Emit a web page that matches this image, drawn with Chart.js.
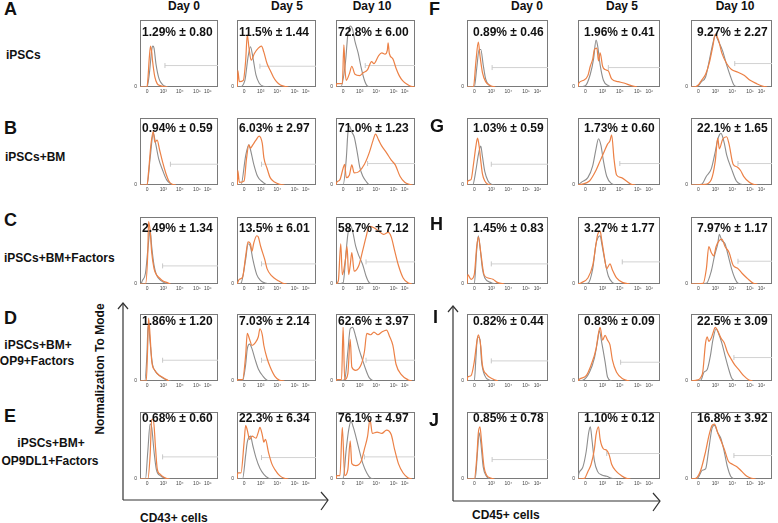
<!DOCTYPE html>
<html>
<head>
<meta charset="utf-8">
<script src="https://cdn.jsdelivr.net/npm/chart.js@4.4.1/dist/chart.umd.min.js"></script>
<style>
  body { margin: 0; background: #fff; }
  #stage { position: relative; width: 778px; height: 523px; overflow: hidden; background: #fff;
           font-family: "Liberation Sans", Arial, sans-serif; color: #111; }
  #stage canvas { position: absolute; }
  .t { position: absolute; font-weight: bold; font-size: 12px; line-height: 14px; white-space: nowrap; }
  .letter { position: absolute; font-weight: bold; font-size: 18px; line-height: 20px; }
  .pct { position: absolute; font-weight: bold; font-size: 12px; line-height: 14px; white-space: nowrap; }
</style>
</head>
<body>
<div id="stage">
  <svg width="778" height="523" style="position:absolute;left:0;top:0" fill="none" stroke="#333" stroke-width="1.2">
    <line x1="123" y1="303" x2="123" y2="500"/>
    <line x1="123" y1="500" x2="328" y2="500"/>
    <polyline points="118,309 123,303 128,309"/>
    <polyline points="321,492 328,500 321,510"/>
    <line x1="453" y1="306" x2="453" y2="501"/>
    <line x1="453" y1="501" x2="660" y2="501"/>
    <polyline points="448,312 453,306 458,312"/>
    <polyline points="653,493 660,501 653,511"/>
  </svg>
</div>
<script>
// column headers, row labels
const days = ["Day 0", "Day 5", "Day 10"];
const dayCenters = [184, 287, 372, 527, 622, 735];

// x tick positions (in % of panel width) and labels
const xTickPos = [9, 30, 51, 73, 87];
const xTickText = ["0", "10³", "10⁴", "10⁵", "10⁶"];

// percentages shown in each panel (Day 0, Day 5, Day 10)
const pctA = ["1.29% ± 0.80", "11.5% ± 1.44", "72.8% ± 6.00"];
const pctB = ["0.94% ± 0.59", "6.03% ± 2.97", "71.0% ± 1.23"];
const pctC = ["2.49% ± 1.34", "13.5% ± 6.01", "58.7% ± 7.12"];
const pctD = ["1.86% ± 1.20", "7.03% ± 2.14", "62.6% ± 3.97"];
const pctE = ["0.68% ± 0.60", "22.3% ± 6.34", "76.1% ± 4.97"];
const pctF = ["0.89% ± 0.46", "1.96% ± 0.41", "9.27% ± 2.27"];
const pctG = ["1.03% ± 0.59", "1.73% ± 0.60", "22.1% ± 1.65"];
const pctH = ["1.45% ± 0.83", "3.27% ± 1.77", "7.97% ± 1.17"];
const pctI = ["0.82% ± 0.44", "0.83% ± 0.09", "22.5% ± 3.09"];
const pctJ = ["0.85% ± 0.78", "1.10% ± 0.12", "16.8% ± 3.92"];

// gate marker: [start x, level]
const gateCD43 = [
  [[32, 32], [29, 31], [37, 32]],
  [[39, 31], [31, 31], [40, 32]],
  [[29, 27], [31, 30], [38, 33]],
  [[29, 31], [31, 31], [38, 31]],
  [[29, 33], [31, 32], [36, 33]]
];
const gateCD45 = [
  [[31, 29], [37, 29], [54, 35]],
  [[30, 31], [51, 32], [58, 32]],
  [[30, 30], [54, 33], [58, 34]],
  [[30, 30], [52, 28], [53, 35]],
  [[31, 29], [35, 38], [53, 35]]
];

// histograms, [x, % of mode]; gray = control, orange = sample
const grayA = [
  [[0,0],[9,0],[12,20],[15,55],[16.5,61],[18,58],[20.4,35],[24.5,12],[28.6,4],[32.6,1],[36,0]],
  [[0,0],[3,0],[10,10],[14,45],[17,60],[20,45],[24,18],[28,6],[33,1],[40,0]],
  [[0,0],[6,0],[12,37],[15,79],[18,91],[21,86],[24,68],[28,51],[32,28],[36,10],[40,1],[44,0]]
];
const orangeA = [
  [[0,0],[9,0],[10,10],[12,45],[13.5,61],[15,52],[16,40],[19,15],[22,5],[26,2],[30.6,0.5],[35,0]],
  [[0,0],[0.5,0],[1,25],[3,8],[8,10],[11,40],[13,78],[15,60],[18,40],[22,50],[27,58],[31,61],[34,52],[38,35],[42,25],[46,15],[50,8],[55,3],[60,1],[65,0]],
  [[0,0],[1,5],[8,5],[10,63],[11.5,25],[13,10],[17,20],[20,31],[24,19],[30,17],[34,21],[40,26],[45,38],[48,35],[54,47],[58,51],[62,49],[65,55],[66,66],[67.5,50],[72,42],[76,28],[80,17],[84,10],[90,4],[96,0.5],[100,0]]
];
const grayB = [
  [[0,0],[9,0],[13,40],[17,77],[20,62],[24,39],[29,22],[34,8],[39,2],[45,0]],
  [[0,0],[5,0],[11,44],[15,60],[17,53],[21,32],[26,13],[33,4],[38,0]],
  [[0,0],[9,0],[13,39],[15,77],[17,88],[20,79],[23,72],[27,48],[30,27],[34,13],[39,4],[42,0]]
];
const orangeB = [
  [[0,0],[9,0],[11,20],[14,60],[17,80],[19,64],[22,67],[25,53],[29,34],[33,18],[37,6],[41,1],[46,0]],
  [[0,0],[0.5,0],[1,22],[3,4],[9,6],[12,39],[15,60],[17,55],[20,60],[24,67],[28,73],[32,62],[34,41],[38,25],[42,11],[48,4],[54,1],[60,0]],
  [[0,0],[1,4],[5,8],[9,25],[11,31],[13,11],[17,15],[20,30],[23,18],[29,20],[36,31],[42,48],[47,67],[50,76],[54,67],[58,58],[64,48],[70,37],[75,30],[81,13],[87,4],[93,1],[97,0]]
];
const grayC = [
  [[0,0],[1,0],[3,5],[7,16],[10,51],[12,74],[13,81],[15,56],[18,28],[21,14],[27,5],[33,1],[38,0]],
  [[0,0],[5,1],[11,37],[14,60],[17,56],[20,37],[25,14],[30,5],[37,1],[42,0]],
  [[0,0],[9,2],[13,51],[15,74],[18,88],[21,79],[25,56],[29,42],[34,28],[38,12],[42,2],[46,0]]
];
const orangeC = [
  [[0,0],[7,0],[10,47],[11,93],[13,79],[15,47],[18,23],[21,14],[25,9],[29,5],[35,2],[39,0]],
  [[0,0],[3,7],[7,10],[11,42],[14,63],[17,60],[19,49],[21,60],[25,72],[27,70],[30,56],[35,37],[38,23],[44,12],[52,5],[58,1],[63,0]],
  [[0,0],[3,5],[6,60],[8,14],[12,37],[14,56],[16,14],[18,28],[20,47],[23,19],[29,28],[34,51],[38,70],[42,86],[48,84],[54,79],[60,74],[66,77],[70,70],[74,51],[79,28],[85,9],[91,2],[96,0]]
];
const grayD = [
  [[0,0],[6,0],[9,43],[10,76],[11,83],[13,57],[16,25],[20,14],[26,7],[35,1],[40,0]],
  [[0,0],[7,0],[11,25],[13,48],[16,55],[19,48],[23,32],[27,18],[33,7],[38,1],[42,0]],
  [[0,0],[11,2],[15,44],[18,78],[21,80],[25,66],[29,48],[34,30],[38,16],[42,5],[46,1],[50,0]]
];
const orangeD = [
  [[0,0],[8,0],[10,57],[11,94],[13,66],[15,30],[19,16],[24,9],[30,5],[37,0]],
  [[0,0],[1,2],[7,2],[11,39],[13,71],[16,62],[19,53],[23,57],[27,66],[29,78],[32,69],[34,53],[38,34],[42,21],[48,7],[54,1],[60,0]],
  [[0,0],[1,2],[7,2],[9,80],[11,2],[15,11],[18,62],[20,21],[25,16],[32,25],[36,44],[39,71],[44,69],[48,73],[53,69],[58,73],[64,76],[68,66],[72,53],[76,25],[83,9],[91,2],[96,0]]
];
const grayE = [
  [[0,0],[7,0],[10,41],[13,82],[15,77],[18,41],[21,14],[26,5],[33,1],[38,0]],
  [[0,0],[7,0],[11,36],[13,55],[17,64],[20,50],[24,32],[29,16],[34,7],[40,1],[45,0]],
  [[0,0],[9,1],[13,45],[16,73],[19,86],[22,77],[25,64],[29,45],[34,23],[39,9],[44,1],[48,0]]
];
const orangeE = [
  [[0,0],[10,0],[13,36],[15,89],[17,89],[20,45],[22,16],[26,7],[33,1],[38,0]],
  [[0,0],[1,9],[5,9],[9,55],[11,80],[13,73],[16,59],[19,64],[24,61],[27,70],[29,77],[32,66],[34,55],[36,59],[40,39],[44,23],[48,14],[54,5],[60,1],[65,0]],
  [[0,0],[1,5],[5,5],[8,77],[11,5],[15,14],[18,57],[20,23],[25,20],[32,27],[36,45],[40,64],[43,89],[46,68],[52,70],[58,68],[64,73],[70,66],[74,45],[79,23],[85,9],[91,2],[96,0]]
];
const grayF = [
  [[0,0],[9,0],[12,28],[15,56],[17,56],[20,33],[23,12],[27,3],[33,0]],
  [[0,0],[9,2],[15,19],[19,42],[22,70],[24,61],[27,33],[31,10],[37,2],[42,0]],
  [[0,0],[7,0],[13,8],[18,15],[23,42],[27,65],[30,77],[34,68],[39,54],[44,33],[49,15],[53,3],[58,0]]
];
const orangeF = [
  [[0,0],[8,0],[11,38],[14,67],[16,47],[19,22],[23,8],[29,2],[35,0]],
  [[0,0],[1,6],[7,10],[12,17],[15,31],[18,42],[20,56],[23,58],[25,39],[27,51],[30,31],[33,26],[37,24],[41,12],[49,8],[56,6],[65,2],[72,0]],
  [[0,0],[3,0],[9,3],[13,10],[18,19],[23,38],[27,61],[30,79],[34,70],[38,51],[44,35],[50,26],[58,22],[66,17],[73,10],[81,5],[89,1],[94,0]]
];
const grayG = [
  [[0,0],[7,0],[11,22],[14,45],[17,58],[19,43],[22,20],[26,6],[30,1],[34,0]],
  [[0,0],[4,4],[12,11],[18,29],[22,54],[25,69],[28,59],[31,36],[35,13],[41,2],[46,0]],
  [[0,0],[13,1],[19,13],[25,24],[30,50],[33,68],[37,77],[41,63],[44,45],[50,24],[56,6],[62,1],[66,0]]
];
const orangeG = [
  [[0,0],[1,6],[5,8],[8,31],[11,58],[13,70],[15,58],[17,36],[19,17],[22,6],[26,1],[30,0]],
  [[0,0],[4,1],[14,6],[22,22],[27,36],[32,50],[36,61],[39,66],[41,75],[44,38],[47,15],[53,11],[59,6],[65,1],[70,0]],
  [[0,0],[17,1],[25,8],[30,36],[33,70],[35,54],[39,68],[44,72],[47,61],[52,31],[57,27],[61,22],[65,13],[72,4],[77,1],[82,0]]
];
const grayH = [
  [[0,0],[9,0],[12,51],[14,72],[16,56],[19,23],[22,9],[30,2],[35,0]],
  [[0,0],[12,1],[18,23],[22,60],[27,72],[29,60],[33,33],[37,12],[42,2],[47,0]],
  [[0,0],[19,1],[25,19],[29,42],[33,60],[35,74],[38,65],[42,60],[46,42],[50,23],[54,9],[58,1],[62,0]]
];
const orangeH = [
  [[0,0],[1,14],[5,7],[9,14],[12,56],[14,70],[17,47],[21,14],[26,9],[32,7],[38,2],[46,0]],
  [[0,0],[4,2],[12,9],[18,28],[22,60],[24,74],[27,79],[29,65],[32,42],[35,23],[39,30],[42,21],[47,9],[55,2],[63,0]],
  [[0,0],[15,1],[19,23],[22,56],[25,47],[28,42],[31,56],[35,65],[38,67],[42,56],[47,47],[52,28],[58,23],[63,16],[69,9],[77,1],[82,0]]
];
const grayI = [
  [[0,0],[9,0],[11,34],[13,66],[16,62],[18,29],[22,8],[28,1],[32,0]],
  [[0,0],[6,1],[14,13],[20,34],[24,61],[26,75],[29,57],[33,29],[36,6],[41,0]],
  [[0,0],[12,1],[16,13],[20,17],[24,38],[27,61],[31,78],[34,71],[38,57],[42,38],[46,20],[50,5],[54,0]]
];
const orangeI = [
  [[0,0],[1,6],[5,8],[9,29],[12,57],[14,69],[17,52],[19,24],[24,10],[32,3],[38,0]],
  [[0,0],[2,3],[10,8],[16,24],[22,48],[25,71],[27,80],[30,61],[33,68],[36,61],[39,54],[42,31],[47,13],[55,3],[63,0]],
  [[0,0],[6,1],[14,10],[18,57],[20,66],[22,59],[25,64],[27,71],[30,80],[33,75],[37,64],[41,57],[45,43],[49,34],[54,24],[59,17],[65,8],[71,2],[76,0]]
];
const grayJ = [
  [[0,0],[10,0],[13,41],[15,69],[17,55],[20,18],[24,4],[28,0]],
  [[0,0],[1,8],[2,11],[6,18],[10,41],[13,69],[15,78],[17,59],[20,27],[24,11],[29,6],[35,4],[41,1],[46,0]],
  [[0,0],[8,1],[14,13],[18,15],[22,45],[26,76],[29,80],[33,69],[37,60],[41,41],[45,18],[49,4],[53,0]]
];
const orangeJ = [
  [[0,0],[9,0],[12,31],[14,69],[16,78],[18,55],[21,18],[24,6],[30,1],[34,0]],
  [[0,0],[8,1],[12,11],[16,22],[20,45],[22,66],[25,78],[27,59],[31,45],[35,43],[38,36],[41,22],[47,11],[53,5],[59,1],[64,0]],
  [[0,0],[6,1],[12,13],[18,41],[22,64],[26,80],[29,82],[33,69],[37,57],[41,45],[46,27],[51,22],[57,18],[63,11],[69,4],[75,1],[80,0]]
];

// panel geometry
const colLeftCD43 = [140, 237, 336];
const colWidthCD43 = [82, 83, 83];
const colLeftCD45 = [467, 578, 691];
const colWidthCD45 = [85, 86, 85];
const rowTop = [15, 113, 212, 309, 407];
const panelH = 72;
const pctDy = [17, 15, 16, 12, 11];

const stage = document.getElementById("stage");

function addText(cls, text, left, top, extra) {
  const d = document.createElement("div");
  d.className = cls;
  d.textContent = text;
  d.style.left = left + "px";
  d.style.top = top + "px";
  if (extra) Object.assign(d.style, extra);
  stage.appendChild(d);
  return d;
}

const boxPlugin = {
  id: "box",
  beforeDatasetsDraw(chart) {
    const a = chart.chartArea;
    const c = chart.ctx;
    c.save();
    c.strokeStyle = "#7a7a7a";
    c.lineWidth = 1;
    c.strokeRect(Math.round(a.left) + 0.5, Math.round(a.top) + 0.5,
                 Math.round(a.right - a.left) - 1, Math.round(a.bottom - a.top) - 1);
    c.restore();
  }
};

const toXY = d => d.map(p => ({ x: p[0], y: p[1] }));

function drawPanel(left, top, w, h, gray, orange, gate) {
  const cv = document.createElement("canvas");
  cv.width = w + 9;
  cv.height = h + 11;
  cv.style.left = (left - 8) + "px";
  cv.style.top = (top - 1) + "px";
  stage.appendChild(cv);

  new Chart(cv, {
    type: "line",
    data: {
      datasets: [
        {
          data: toXY(orange),
          borderColor: "#ec8146",
          borderWidth: 1.2,
          pointRadius: 0,
          cubicInterpolationMode: "monotone",
          order: 0
        },
        {
          data: toXY(gray),
          borderColor: "#8d8d8d",
          borderWidth: 1.1,
          pointRadius: 0,
          cubicInterpolationMode: "monotone",
          order: 1
        },
        {
          data: [{ x: gate[0], y: gate[1] }, { x: 100, y: gate[1] }],
          borderColor: "#d2d2d2",
          borderWidth: 1,
          pointRadius: [2.5, 0],
          pointStyle: "line",
          rotation: 90,
          pointBorderColor: "#c8c8c8",
          pointBorderWidth: 1,
          order: 2
        }
      ]
    },
    options: {
      responsive: false,
      animation: false,
      devicePixelRatio: 1,
      layout: { padding: { top: 1, right: 1, left: 0, bottom: 0 } },
      plugins: { legend: { display: false }, tooltip: { enabled: false } },
      scales: {
        x: {
          type: "linear",
          min: 0,
          max: 100,
          afterBuildTicks: s => { s.ticks = xTickPos.map(v => ({ value: v })); },
          afterFit: s => { s.height = 10; },
          grid: { display: false, drawTicks: false },
          border: { display: false },
          ticks: {
            autoSkip: false, maxRotation: 0, minRotation: 0, padding: 2,
            font: { size: 5, family: "Liberation Sans" }, color: "#444",
            callback: (v, i) => xTickText[i]
          }
        },
        y: {
          min: 0,
          max: 100,
          afterBuildTicks: s => { s.ticks = [{ value: 0 }]; },
          afterFit: s => { s.width = 8; },
          grid: { display: false, drawTicks: false },
          border: { display: false },
          ticks: {
            padding: 3,
            font: { size: 5, family: "Liberation Sans" }, color: "#444",
            callback: () => "0"
          }
        }
      }
    },
    plugins: [boxPlugin]
  });
}

const grayCD43 = [grayA, grayB, grayC, grayD, grayE];
const orangeCD43 = [orangeA, orangeB, orangeC, orangeD, orangeE];
const pctCD43 = [pctA, pctB, pctC, pctD, pctE];
const grayCD45 = [grayF, grayG, grayH, grayI, grayJ];
const orangeCD45 = [orangeF, orangeG, orangeH, orangeI, orangeJ];
const pctCD45 = [pctF, pctG, pctH, pctI, pctJ];

for (let r = 0; r < 5; r++) {
  for (let c = 0; c < 3; c++) {
    drawPanel(colLeftCD43[c], rowTop[r], colWidthCD43[c], panelH,
              grayCD43[r][c], orangeCD43[r][c], gateCD43[r][c]);
    drawPanel(colLeftCD45[c], rowTop[r], colWidthCD45[c], panelH,
              grayCD45[r][c], orangeCD45[r][c], gateCD45[r][c]);
  }
}

// percentage labels on top of the plots
for (let r = 0; r < 5; r++) {
  for (let c = 0; c < 3; c++) {
    addText("pct", pctCD43[r][c], colLeftCD43[c] + 2, rowTop[r] + pctDy[r] - 7);
    addText("pct", pctCD45[r][c], colLeftCD45[c] + 6, rowTop[r] + pctDy[r] - 7);
  }
}

// day headers
dayCenters.forEach((cx, i) => {
  addText("t", days[i % 3], cx, -1, { transform: "translateX(-50%)" });
});

// panel letters
const letters = ["A", "B", "C", "D", "E", "F", "G", "H", "I", "J"];
const letterPos = [[4, -1], [4, 118], [4, 210], [4, 308], [4, 406],
                   [429, -1], [430, 116], [430, 214], [433, 307], [429, 410]];
letters.forEach((l, i) => addText("letter", l, letterPos[i][0], letterPos[i][1]));

// row (condition) labels
addText("t", "iPSCs", 6, 48);
addText("t", "iPSCs+BM", 5, 150);
addText("t", "iPSCs+BM+Factors", 4, 251);
addText("t", "iPSCs+BM+", 38, 338, { transform: "translateX(-50%)" });
addText("t", "OP9+Factors", 37, 354, { transform: "translateX(-50%)" });
addText("t", "iPSCs+BM+", 51, 436, { transform: "translateX(-50%)" });
addText("t", "OP9DL1+Factors", 50, 454, { transform: "translateX(-50%)" });

// axis titles
addText("t", "Normalization To Mode", 100, 369, { transform: "translate(-50%,-50%) rotate(-90deg)" });
addText("t", "CD43+ cells", 140, 511);
addText("t", "CD45+ cells", 472, 508);
</script>
</body>
</html>
